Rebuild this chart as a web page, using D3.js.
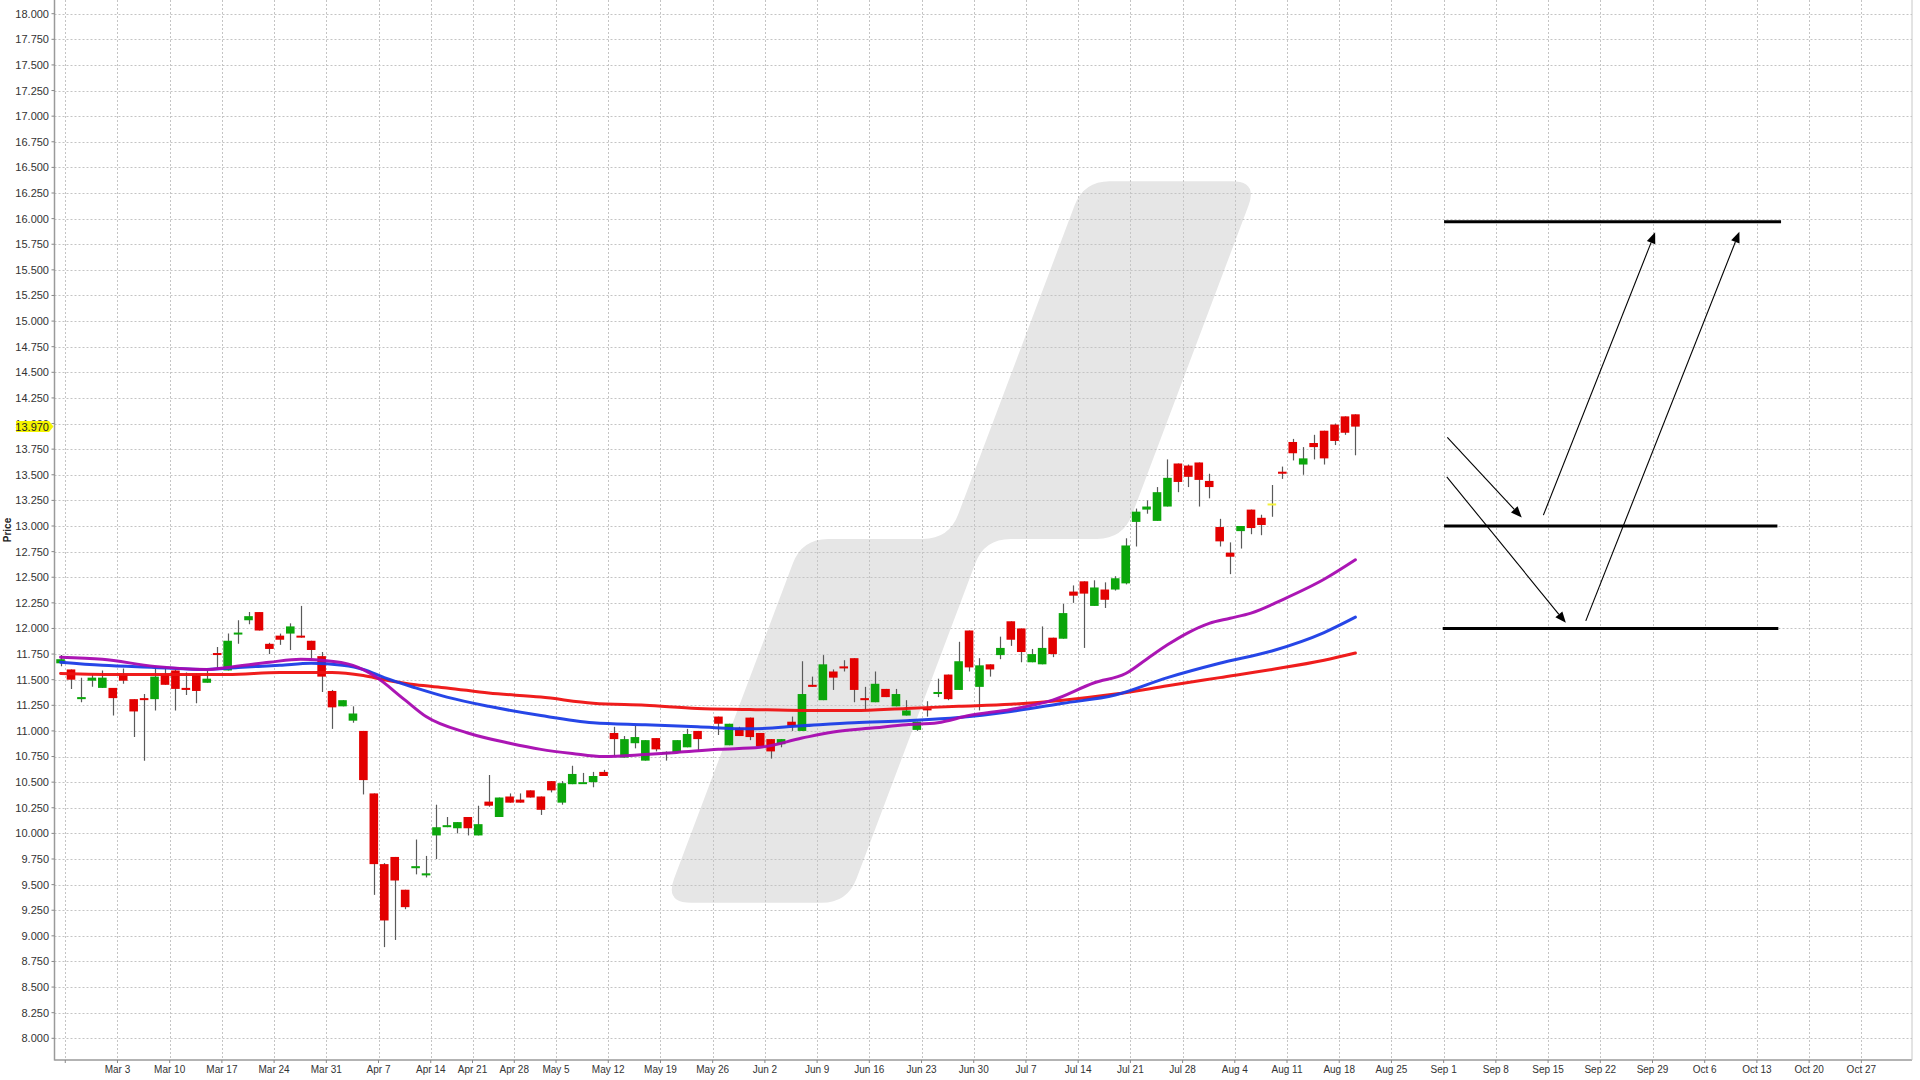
<!DOCTYPE html>
<html><head><meta charset="utf-8">
<script src="https://cdn.jsdelivr.net/npm/d3@7"></script>
<style>html,body{margin:0;padding:0;background:#fff;} svg{display:block;}</style>
</head><body>
<svg id="chart" width="1920" height="1080"></svg>
<script>
// ---------- DATA ----------
const tickIdx = [0,5,10,15,20,25,30,35,39,43,47,52,57,62,67,72,77,82,87,92,97,102,107,112,117,122,127,132,137,142,147,152,157,162,167,172];
const tickLabels = ["","Mar 3","Mar 10","Mar 17","Mar 24","Mar 31","Apr 7","Apr 14","Apr 21","Apr 28","May 5","May 12","May 19","May 26","Jun 2","Jun 9","Jun 16","Jun 23","Jun 30","Jul 7","Jul 14","Jul 21","Jul 28","Aug 4","Aug 11","Aug 18","Aug 25","Sep 1","Sep 8","Sep 15","Sep 22","Sep 29","Oct 6","Oct 13","Oct 20","Oct 27"];
const priceTicks = d3.range(8, 18.001, 0.25);

const candleStart = -1;
const opens  = [11.66,11.60,11.31,11.49,11.42,11.42,11.55,11.31,11.32,11.31,11.55,11.59,11.42,11.55,11.47,11.76,11.59,11.95,12.08,12.16,11.85,11.93,11.95,11.93,11.88,11.73,11.39,11.24,11.10,11.00,10.39,9.70,9.77,9.45,9.66,9.59,9.98,10.07,10.05,10.16,9.98,10.31,10.16,10.36,10.33,10.42,10.36,10.51,10.30,10.48,10.49,10.50,10.60,10.98,10.74,10.88,10.71,10.93,10.79,10.79,10.84,11.00,null,11.14,10.86,11.03,11.13,10.98,10.92,10.87,11.09,11.00,11.45,11.30,11.58,11.63,11.71,11.32,11.28,11.41,11.24,11.15,11.01,11.22,11.37,11.55,11.40,11.98,11.43,11.65,11.74,12.07,12.00,11.67,11.65,11.91,11.90,12.36,12.46,12.22,12.38,12.38,12.44,13.04,13.16,13.05,13.19,13.61,13.59,13.62,13.44,12.99,12.74,12.95,13.16,13.08,13.22,13.53,13.82,13.60,13.81,13.93,13.99,14.07,14.09];
const highs  = [11.74,11.60,11.52,11.55,11.59,11.42,11.61,11.31,11.36,11.61,11.61,11.60,11.57,11.56,11.59,11.82,11.95,12.08,12.16,12.16,11.86,11.95,12.05,12.22,11.88,11.77,11.40,11.30,11.24,11.00,10.39,9.71,9.77,9.45,9.94,9.78,10.28,10.16,10.11,10.16,10.27,10.57,10.35,10.39,10.39,10.42,10.36,10.51,10.51,10.66,10.59,10.60,10.62,11.04,10.95,11.05,10.91,10.93,10.80,10.91,11.02,11.00,null,11.14,11.07,11.04,11.13,10.98,10.92,10.92,11.14,11.68,11.53,11.74,11.60,11.69,11.71,11.43,11.58,11.41,11.41,11.30,11.09,11.29,11.51,11.55,11.87,11.98,11.71,11.65,11.92,12.07,12.00,11.80,12.02,11.91,12.24,12.42,12.46,12.47,12.45,12.51,12.88,13.17,13.25,13.38,13.65,13.61,13.60,13.62,13.51,13.07,12.84,13.00,13.16,13.11,13.40,13.58,13.85,13.77,13.89,13.93,14.00,14.07,14.09];
const lows   = [11.63,11.41,11.28,11.43,11.42,11.15,11.46,10.94,10.71,11.20,11.45,11.20,11.35,11.27,11.47,11.61,11.59,11.85,12.04,11.98,11.75,11.84,11.79,11.91,11.71,11.38,11.02,11.24,11.08,10.38,9.40,8.89,8.96,9.26,9.60,9.57,9.75,10.06,10.00,9.98,9.98,10.26,10.16,10.30,10.30,10.35,10.18,10.40,10.28,10.48,10.49,10.45,10.56,10.75,10.74,10.83,10.71,10.80,10.71,10.79,10.84,10.81,null,10.96,10.86,10.95,10.91,10.85,10.73,10.84,11.00,11.00,11.43,11.30,11.40,11.58,11.28,11.20,11.28,11.33,11.24,11.15,11.00,11.14,11.33,11.30,11.40,11.58,11.20,11.53,11.70,11.83,11.67,11.67,11.65,11.72,11.90,12.25,11.81,12.22,12.20,12.37,12.43,12.80,13.12,13.05,13.19,13.33,13.38,13.19,13.27,12.80,12.53,12.78,12.92,12.91,13.09,13.46,13.64,13.50,13.65,13.60,13.79,13.89,13.69];
const closes = [11.70,11.50,11.33,11.52,11.52,11.32,11.49,11.19,11.31,11.53,11.45,11.41,11.40,11.39,11.51,11.75,11.88,11.96,12.12,11.98,11.80,11.89,12.02,11.92,11.79,11.53,11.23,11.30,11.17,10.52,9.70,9.15,9.54,9.28,9.68,9.61,10.06,10.08,10.11,10.05,10.09,10.27,10.35,10.30,10.30,10.35,10.23,10.42,10.49,10.58,10.50,10.56,10.56,10.92,10.92,10.94,10.91,10.82,10.795,10.91,10.97,10.92,null,11.07,11.07,10.95,10.94,10.85,10.80,10.92,11.05,11.36,11.43,11.65,11.52,11.61,11.40,11.30,11.46,11.33,11.36,11.20,11.09,11.21,11.38,11.31,11.68,11.62,11.64,11.60,11.81,11.89,11.77,11.75,11.81,11.75,12.15,12.32,12.34,12.40,12.28,12.49,12.81,13.14,13.19,13.33,13.47,13.43,13.48,13.45,13.38,12.85,12.70,13.00,12.98,13.01,13.22,13.51,13.71,13.66,13.77,13.66,13.83,13.91,13.97];
const lastPrice = 13.97;

// moving averages (index, value)
const maRedIdx = [-1,5,10,15,20,25,28,30,33,36,40,45,50,55,60,65,70,75,80,85,90,95,100,105,110,115,120,123];
const maRedVal = [11.56,11.55,11.55,11.55,11.57,11.57,11.54,11.50,11.45,11.42,11.37,11.33,11.27,11.25,11.22,11.21,11.20,11.20,11.22,11.24,11.26,11.30,11.36,11.44,11.52,11.60,11.69,11.76];
const maBlueIdx = [-1,3,8,13,16,20,23,26,28,30,33,36,40,45,50,55,60,65,70,75,80,85,90,95,100,105,110,115,120,123];
const maBlueVal = [11.67,11.64,11.62,11.60,11.62,11.64,11.66,11.64,11.60,11.52,11.42,11.33,11.24,11.15,11.08,11.06,11.04,11.02,11.05,11.08,11.10,11.13,11.19,11.27,11.35,11.52,11.66,11.78,11.96,12.11];
const maPurpleIdx = [-1,3,8,13,15,19,22,24,27,29,32,34,38,42,45,48,51,55,58,62,66,70,73,77,80,83,86,90,94,98,101,103,105,107,109,111,113,116,120,123];
const maPurpleVal = [11.72,11.70,11.63,11.60,11.62,11.67,11.70,11.69,11.64,11.54,11.30,11.14,10.98,10.88,10.82,10.78,10.75,10.77,10.79,10.82,10.84,10.93,10.99,11.03,11.06,11.08,11.15,11.21,11.30,11.47,11.56,11.70,11.84,11.96,12.05,12.10,12.15,12.28,12.48,12.67];

// annotations (index, price)
const levelPrice = [15.97, 13.0, 12.0];
const levelFrom  = [132.04, 132.04, 131.91];
const levelTo    = [164.31, 163.96, 164.05];
const arrowFromIdx   = [132.35, 132.30, 141.55, 145.61];
const arrowFromPrice = [13.865, 13.48, 13.106, 12.074];
const arrowToIdx     = [139.48, 143.70, 152.25, 160.32];
const arrowToPrice   = [13.084, 12.055, 15.866, 15.872];

// watermark outline (index, price)
const wmIdx   = [57.43, 70.56, 84.63, 97.53, 114.19, 101.29, 88.03, 74.90];
const wmPrice = [9.323, 12.874, 12.874, 16.365, 16.365, 12.874, 12.874, 9.323];

// ---------- CHART ----------
const svg = d3.select("#chart");
const L = 54.5, R = 1912, T = 0, B = 1060;
const x = d3.scaleLinear().domain([-1.03, 176.85]).range([L, R]);
const y = d3.scaleLinear().domain([8, 18]).range([1038.3, 13.7]);

svg.append("rect").attr("width",1920).attr("height",1080).attr("fill","#fff");
svg.append("defs").append("clipPath").attr("id","plotclip")
  .append("rect").attr("x",L).attr("y",T).attr("width",R-L).attr("height",B-T);

const plot = svg.append("g").attr("clip-path","url(#plotclip)");

// watermark
function roundedPath(pts, r){
  const n = pts.length; let d = "";
  for(let i=0;i<n;i++){
    const p0 = pts[(i-1+n)%n], p1 = pts[i], p2 = pts[(i+1)%n];
    const d1 = Math.hypot(p0[0]-p1[0], p0[1]-p1[1]), d2 = Math.hypot(p2[0]-p1[0], p2[1]-p1[1]);
    const r1 = Math.min(r, d1/2), r2 = Math.min(r, d2/2);
    const a = [p1[0]+(p0[0]-p1[0])/d1*r1, p1[1]+(p0[1]-p1[1])/d1*r1];
    const b = [p1[0]+(p2[0]-p1[0])/d2*r2, p1[1]+(p2[1]-p1[1])/d2*r2];
    d += (i===0?"M":"L")+a[0]+","+a[1]+"Q"+p1[0]+","+p1[1]+" "+b[0]+","+b[1];
  }
  return d+"Z";
}
const wmPts = wmIdx.map((v,i)=>[x(v), y(wmPrice[i])]);
plot.append("path").attr("d", roundedPath(wmPts, 26)).attr("fill","#e6e6e6");

// grid
const grid = plot.append("g");
grid.selectAll("line.h").data(priceTicks).join("line")
  .attr("x1",L).attr("x2",R).attr("y1",d=>Math.round(y(d))+0.5).attr("y2",d=>Math.round(y(d))+0.5)
  .attr("stroke","#c4c4c4").attr("stroke-width",1).attr("stroke-dasharray","2,2");
grid.selectAll("line.v").data(tickIdx).join("line")
  .attr("y1",T).attr("y2",B).attr("x1",d=>Math.round(x(d))+0.5).attr("x2",d=>Math.round(x(d))+0.5)
  .attr("stroke","#c4c4c4").attr("stroke-width",1).attr("stroke-dasharray","2,2");

// candles
const candles = opens.map((o,i)=>({k:candleStart+i, o, h:highs[i], l:lows[i], c:closes[i]})).filter(d=>d.o!==null);
const cw = 8.6;
const cx = d => x(d.k + 0.55);
const g = plot.append("g");
g.selectAll("line.wick").data(candles).join("line")
  .attr("x1",d=>Math.round(cx(d))+0.5).attr("x2",d=>Math.round(cx(d))+0.5)
  .attr("y1",d=>y(d.h)).attr("y2",d=>y(d.l))
  .attr("stroke","#5a5a5a").attr("stroke-width",1.2);
g.selectAll("rect.body").data(candles).join("rect")
  .attr("x",d=>cx(d)-cw/2).attr("width",cw)
  .attr("y",d=>y(Math.max(d.o,d.c)))
  .attr("height",d=>Math.max(2, Math.abs(y(d.o)-y(d.c))))
  .attr("fill",d=> d.c>d.o ? "#0ba60b" : (d.c<d.o ? "#e30000" : "#f2f03a"));

// moving averages
function drawMA(idx, vals, color){
  const line = d3.line().x(d=>x(d[0]+0.55)).y(d=>y(d[1])).curve(d3.curveMonotoneX);
  plot.append("path").datum(idx.map((v,i)=>[v, vals[i]]))
    .attr("d", line).attr("fill","none").attr("stroke",color).attr("stroke-width",3)
    .attr("stroke-linejoin","round").attr("stroke-linecap","round").attr("opacity",0.95);
}
drawMA(maRedIdx, maRedVal, "#ee1111");
drawMA(maBlueIdx, maBlueVal, "#1a3ce6");
drawMA(maPurpleIdx, maPurpleVal, "#a60ab0");

// annotations
const ann = plot.append("g");
levelPrice.forEach((p,i)=>{
  ann.append("line").attr("x1",x(levelFrom[i])).attr("x2",x(levelTo[i]))
    .attr("y1",y(p)).attr("y2",y(p)).attr("stroke","#000").attr("stroke-width",3);
});
arrowFromIdx.forEach((v,i)=>{
  const x1 = x(v), y1 = y(arrowFromPrice[i]), x2 = x(arrowToIdx[i]), y2 = y(arrowToPrice[i]);
  const ang = Math.atan2(y2-y1, x2-x1);
  const len = 11, half = 4.5;
  const bx = x2 - Math.cos(ang)*len, by = y2 - Math.sin(ang)*len;
  ann.append("line").attr("x1",x1).attr("y1",y1).attr("x2",bx).attr("y2",by)
    .attr("stroke","#000").attr("stroke-width",1.1);
  const px = -Math.sin(ang), py = Math.cos(ang);
  ann.append("path").attr("d",`M${x2},${y2}L${bx+px*half},${by+py*half}L${bx-px*half},${by-py*half}Z`).attr("fill","#000");
});

// axes
svg.append("line").attr("x1",L).attr("x2",L).attr("y1",T).attr("y2",B+0.5).attr("stroke","#9a9a9a").attr("stroke-width",1.5);
svg.append("line").attr("x1",L).attr("x2",R).attr("y1",B).attr("y2",B).attr("stroke","#9a9a9a").attr("stroke-width",1.5);
svg.append("line").attr("x1",R).attr("x2",R).attr("y1",T).attr("y2",B).attr("stroke","#c8c8c8").attr("stroke-width",1);

const yax = svg.append("g");
yax.selectAll("line").data(priceTicks).join("line")
  .attr("x1",L-3).attr("x2",L).attr("y1",d=>y(d)).attr("y2",d=>y(d)).attr("stroke","#888");
yax.selectAll("text").data(priceTicks).join("text")
  .attr("x",L-5.5).attr("y",d=>y(d)).attr("dy","0.36em").attr("text-anchor","end")
  .attr("font-family","'Liberation Sans', Arial, sans-serif").attr("font-size",11).attr("fill","#333")
  .text(d=>d3.format(".3f")(d));

const xax = svg.append("g");
xax.selectAll("line").data(tickIdx).join("line")
  .attr("x1",d=>x(d)).attr("x2",d=>x(d)).attr("y1",B).attr("y2",B+3).attr("stroke","#888");
xax.selectAll("text").data(tickIdx).join("text")
  .attr("x",d=>x(d)).attr("y",B+13).attr("text-anchor","middle")
  .attr("font-family","'Liberation Sans', Arial, sans-serif").attr("font-size",10).attr("fill","#333")
  .text((d,i)=>tickLabels[i]);

// last price label
const ly = y(lastPrice);
svg.append("path").attr("d",`M16,${ly-5.5}L49,${ly-5.5}L53.5,${ly}L49,${ly+5.5}L16,${ly+5.5}Z`).attr("fill","#f4f400");
svg.append("text").attr("x",L-5.5).attr("y",ly).attr("dy","0.36em").attr("text-anchor","end")
  .attr("font-family","'Liberation Sans', Arial, sans-serif").attr("font-size",11).attr("fill","#222")
  .text(d3.format(".3f")(lastPrice));

// y axis title
svg.append("text").attr("transform",`translate(11,${(T+B)/2}) rotate(-90)`).attr("text-anchor","middle")
  .attr("font-family","'Liberation Sans', Arial, sans-serif").attr("font-size",10).attr("font-weight","bold").attr("fill","#222")
  .text("Price");
</script>
</body></html>
